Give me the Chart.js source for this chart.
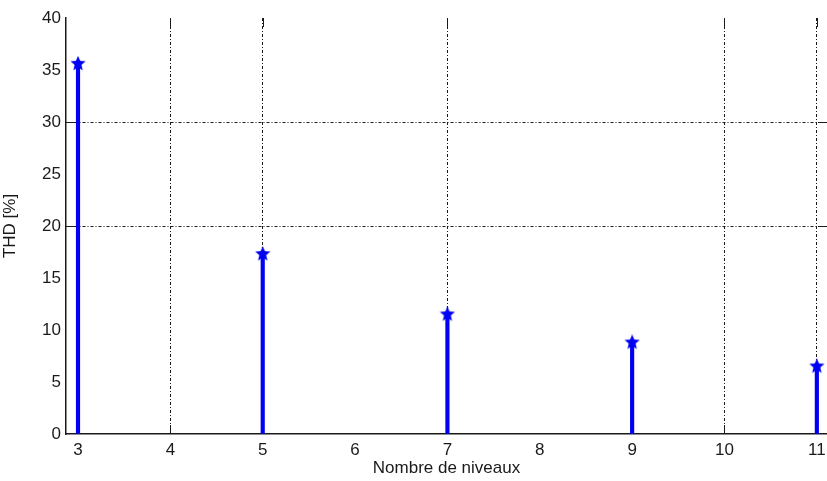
<!DOCTYPE html>
<html>
<head>
<meta charset="utf-8">
<script src="https://cdn.jsdelivr.net/npm/chart.js@4/dist/chart.umd.min.js"></script>
<style>
  html, body { margin: 0; padding: 0; background: #fff; }
</style>
</head>
<body>
<canvas id="thd" width="827" height="481"></canvas>
<script>
// THD versus number of levels (stem plot)
const levels = [3, 5, 7, 9, 11];
const thdValues = [35.6, 17.3, 11.5, 8.8, 6.5];
const xTickValues = [3, 4, 5, 6, 7, 8, 9, 10, 11];
const yTickValues = [0, 5, 10, 15, 20, 25, 30, 35, 40];
const xGridLines = [4, 5, 7, 10, 11];
const yGridLines = [20, 30];

const BLUE = '#0000f2';
const INK = '#1a1a1a';
const FONT = { family: "'Liberation Sans', Arial, sans-serif", size: 17 };

// filled pentagram used as the stem head
function makeStar(size, color) {
  const c = document.createElement('canvas');
  c.width = size; c.height = size;
  const g = c.getContext('2d');
  const r = size / 2, ri = r * 0.45;
  g.beginPath();
  for (let i = 0; i < 10; i++) {
    const a = -Math.PI / 2 + i * Math.PI / 5;
    const rr = i % 2 ? ri : r;
    g.lineTo(r + rr * Math.cos(a), r + rr * Math.sin(a));
  }
  g.closePath();
  g.fillStyle = color;
  g.fill();
  return c;
}
const star = makeStar(16, BLUE);

const points = levels.map((x, i) => ({ x: x, y: thdValues[i] }));

// short solid ticks on the inside of the box
const innerTicks = {
  id: 'innerTicks',
  afterDraw(chart) {
    const { ctx, chartArea: a, scales: { x, y } } = chart;
    const len = 9;
    ctx.save();
    ctx.strokeStyle = INK;
    ctx.lineWidth = 1;
    ctx.beginPath();
    xGridLines.forEach(v => {
      const px = Math.round(x.getPixelForValue(v)) + 0.5;
      ctx.moveTo(px, a.bottom); ctx.lineTo(px, a.bottom - len);
      ctx.moveTo(px, a.top); ctx.lineTo(px, a.top + len);
    });
    yGridLines.forEach(v => {
      const py = Math.round(y.getPixelForValue(v)) + 0.5;
      ctx.moveTo(a.left, py); ctx.lineTo(a.left + len, py);
      ctx.moveTo(a.right, py); ctx.lineTo(a.right - len, py);
    });
    ctx.stroke();
    ctx.restore();
  }
};

const gridColor = shown => c => (c.tick && shown.includes(c.tick.value)) ? INK : 'rgba(0,0,0,0)';

new Chart(document.getElementById('thd'), {
  type: 'bar',
  data: {
    datasets: [
      {
        type: 'scatter',
        data: points,
        pointStyle: star,
        pointRadius: 8,
        clip: false,
        order: 1
      },
      {
        type: 'bar',
        data: points,
        backgroundColor: BLUE,
        barThickness: 3.5,
        order: 2
      }
    ]
  },
  plugins: [innerTicks],
  options: {
    responsive: false,
    animation: false,
    layout: { autoPadding: false, padding: { top: 18, right: 0, left: 0, bottom: 0 } },
    plugins: { legend: { display: false }, tooltip: { enabled: false } },
    scales: {
      x: {
        type: 'linear',
        min: 2.87,
        max: 11.11,
        offset: false,
        afterBuildTicks: s => { s.ticks = xTickValues.map(v => ({ value: v })); },
        afterFit: s => { s.height = 47; s.paddingRight = 0; s.paddingLeft = 0; },
        grid: { offset: false, color: gridColor(xGridLines), lineWidth: 1, drawTicks: false },
        border: { color: INK, width: 1.5, dash: [3, 2, 1, 2] },
        ticks: { font: FONT, color: INK, padding: 6, maxRotation: 0, autoSkip: false },
        title: { display: true, text: 'Nombre de niveaux', font: FONT, color: INK, padding: { top: 0, bottom: 2 } }
      },
      y: {
        min: 0,
        max: 40,
        afterBuildTicks: s => { s.ticks = yTickValues.map(v => ({ value: v })); },
        afterFit: s => { s.width = 66; },
        grid: { color: gridColor(yGridLines), lineWidth: 1, drawTicks: false },
        border: { color: INK, width: 1.5, dash: [3, 2, 1, 2] },
        ticks: { font: FONT, color: INK, padding: 5 },
        title: { display: true, text: 'THD [%]', font: { family: FONT.family, size: 17 }, color: INK, padding: { top: 0, bottom: 3 } }
      }
    }
  }
});
</script>
</body>
</html>
